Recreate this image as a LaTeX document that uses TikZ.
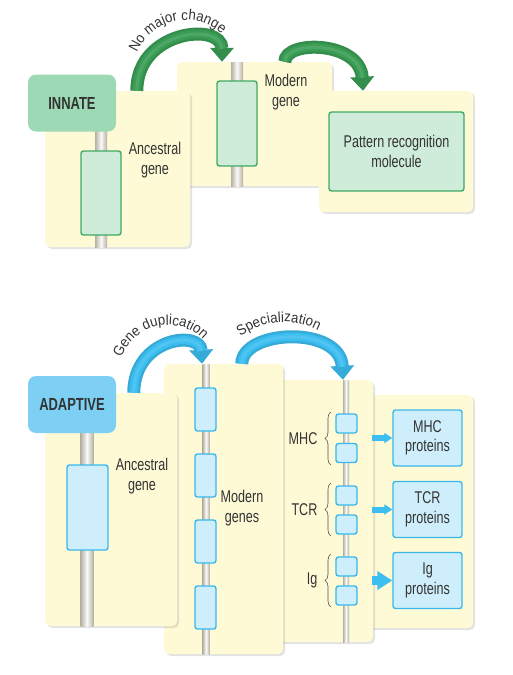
\documentclass[tikz,border=0pt]{standalone}
\usepackage{fontspec}
\setmainfont{Liberation Sans}
\newfontfamily\condfont[FakeStretch=0.74]{Liberation Sans}
\newfontfamily\arcfam[FakeStretch=0.92]{Liberation Sans}
\usepackage{tikz}
\usetikzlibrary{
  calc,arrows.meta,decorations.text,decorations.pathreplacing,positioning,
  shadows
}
\definecolor{cream}{HTML}{FEFAD6}
\definecolor{txtgray}{HTML}{333333}
\definecolor{rodgray}{HTML}{B5B2A4}
\definecolor{innlab}{HTML}{9CD9B4}
\definecolor{innarr}{HTML}{3A9D55}
\definecolor{inngene}{HTML}{CFEBD9}
\definecolor{innedge}{HTML}{3FAA63}
\definecolor{adplab}{HTML}{7DD0F4}
\definecolor{adparr}{HTML}{3CBEF0}
\definecolor{adpgene}{HTML}{CFEEFB}
\definecolor{adpedge}{HTML}{39B8EC}
\tikzset{
  panel/.style={fill=cream,rounded corners=5pt,inner sep=0pt,
    drop shadow={shadow xshift=2pt,shadow yshift=-2pt,opacity=.22}},
  tag/.style={rounded corners=8pt,inner sep=0pt,minimum width=88pt,
    minimum height=57pt,text=txtgray,
    font=\condfont\bfseries\fontsize{17.5}{20}\selectfont},
  rod/.style={inner sep=0pt,left color=rodgray,right color=rodgray,
    middle color=white!92!rodgray},
  gene/.style={rounded corners=2.5pt,inner sep=0pt,line width=1.4pt},
  lbl/.style={align=center,text=txtgray,
    font=\condfont\fontsize{17}{19.5}\selectfont},
  bigarc/.style={draw=#1!90!black,line width=13pt,
    -{Triangle[length=14pt,width=23pt]},
    postaction={draw=#1,line width=8pt,shorten >=13pt,-},
    postaction={draw=#1!90!white,line width=3pt,shorten >=13pt,-}},
  push/.style={line width=6pt,draw=adparr,-{Triangle[length=8pt,width=10pt]}},
  brc/.style={decorate,decoration={brace,amplitude=6pt},semithick,draw=txtgray!85}
}
\newcommand\arcfont{\arcfam\fontsize{14.5}{14.5}\selectfont\color{txtgray}}

\begin{document}
\begin{tikzpicture}[x=1pt,y=-1pt]
  \useasboundingbox (0,0) rectangle (512,675);
  % innate panels
  \node[panel,minimum width=155pt,minimum height=124pt] (mod1) at (254.5,124) {};
  \node[panel,minimum width=145pt,minimum height=156pt] (anc1) at (117.5,169) {};
  \node[panel,minimum width=154pt,minimum height=121pt] (pat) at (396,151.5) {};
  % genes
  \node[rod,minimum width=12pt,minimum height=127pt] (rod1) at (101,183.5) {};
  \node[rod,minimum width=12pt,minimum height=124pt] (rod2) at (237,124) {};
  \node[tag,fill=innlab] (innate) at (72,103) {INNATE};
  \node[gene,fill=inngene,draw=innedge,minimum width=40pt,minimum height=84pt]
    (gene1) at (101,193) {};
  \node[gene,fill=inngene,draw=innedge,minimum width=40pt,minimum height=85pt]
    (gene2) at (237,123.5) {};
  \node[gene,fill=inngene,draw=innedge,minimum width=135pt,minimum height=79pt,lbl]
    (patbox) at (396.5,151.5) {Pattern recognition\\molecule};
  \node[lbl] (anclbl1) at (155,160) {Ancestral\\gene};
  \node[lbl] (modlbl1) at (286,92) {Modern\\gene};
  % arrows
  \coordinate (up1) at ([xshift=92pt]anc1.north west);
  \coordinate (dn1) at ([xshift=-15pt]rod2.north);
  \coordinate (up2) at ([xshift=108pt]mod1.north west);
  \coordinate (dn2) at ([xshift=-33pt]pat.north);
  \draw[bigarc=innarr] (up1) .. controls +(0,-61) and +(0,-40) .. (dn1);
  \draw[bigarc=innarr] (up2) .. controls +(0,-22) and +(-3,-50) .. (dn2);
  \path[decorate,decoration={text along path,text align=center,
    text={|\arcfont|No major change}}]
    (186,73) ++(187.5:53) arc[start angle=187.5,end angle=327.5,radius=53];

  % adaptive panels
  \node[panel,minimum width=113pt,minimum height=233pt] (prot) at (416.5,511.5) {};
  \node[panel,minimum width=103pt,minimum height=262pt] (spec) at (321.5,511) {};
  \node[panel,minimum width=119pt,minimum height=290pt] (dup) at (223.5,509) {};
  \node[panel,minimum width=132pt,minimum height=233pt] (anc2) at (111,509.5) {};
  % genes
  \node[rod,minimum width=13pt,minimum height=206pt] (rod3) at (87,523) {};
  \node[rod,minimum width=7pt,minimum height=290pt] (rod4) at (206,509) {};
  \node[rod,minimum width=6pt,minimum height=262pt] (rod5) at (346,511) {};
  \node[tag,fill=adplab] (adaptive) at (72,404.5) {ADAPTIVE};
  \node[gene,fill=adpgene,draw=adpedge,minimum width=41pt,minimum height=85pt]
    (gene3) at (87.5,507.5) {};
  \foreach \y [count=\i] in {409.5,475.5,541.5,607.5}
    \node[gene,fill=adpgene,draw=adpedge,minimum width=21pt,minimum height=43pt]
      (dupg\i) at (205.5,\y) {};
  \foreach \y [count=\i] in {423.5,453,495.5,524.5,566.5,595.5}
    \node[gene,fill=adpgene,draw=adpedge,minimum width=21pt,minimum height=19pt]
      (specg\i) at (346.5,\y) {};
  \node[lbl] (anclbl2) at (142,476) {Ancestral\\gene};
  \node[lbl] (modlbl2) at (242,508) {Modern\\genes};
  % braces
  \draw[brc] (331,465) -- (331,412) node[midway,left=10pt,lbl] (mhc) {MHC};
  \draw[brc] (331,536) -- (331,483) node[midway,left=10pt,lbl] (tcr) {TCR};
  \draw[brc] (331,607) -- (331,554) node[midway,left=10pt,lbl] (ig) {Ig};
  % proteins
  \foreach \n/\y/\t in {mhcp/438/MHC,tcrp/509.5/TCR,igp/580.5/Ig}
    \node[gene,fill=adpgene,draw=adpedge,minimum width=69pt,minimum height=56pt,lbl]
      (\n) at (427.5,\y) {\t\\proteins};
  \coordinate (mhcs) at ([xshift=-20pt]mhcp.west);
  \coordinate (tcrs) at ([xshift=-20pt]tcrp.west);
  \coordinate (igs) at ([xshift=-20pt]igp.west);
  \draw[push] (mhcs) -- (mhcp.west);
  \draw[push] (tcrs) -- (tcrp.west);
  \draw[push,line width=9pt,-{Triangle[length=15pt,width=18pt]}] (igs) -- (igp.west);
  % arrows
  \coordinate (up3) at ([xshift=89pt]anc2.north west);
  \coordinate (dn3) at ([xshift=-4pt]rod4.north);
  \coordinate (up4) at ([xshift=78pt]dup.north west);
  \coordinate (dn4) at ([xshift=-3pt]rod5.north);
  \draw[bigarc=adparr] (up3) .. controls +(0,-55) and +(-2,-34) .. (dn3);
  \draw[bigarc=adparr] (up4) .. controls +(0,-34) and +(-3,-55) .. (dn4);
  \path[decorate,decoration={text along path,text align=center,
    text={|\arcfont|Gene duplication}}]
    (168,374) ++(187.5:49) arc[start angle=187.5,end angle=327.5,radius=49];
  \path[decorate,decoration={text along path,text align=center,
    text={|\arcfont|Specialization}}]
    (284,396) ++(220.75:74) arc[start angle=220.75,end angle=310.75,radius=74];
\end{tikzpicture}
\end{document}
